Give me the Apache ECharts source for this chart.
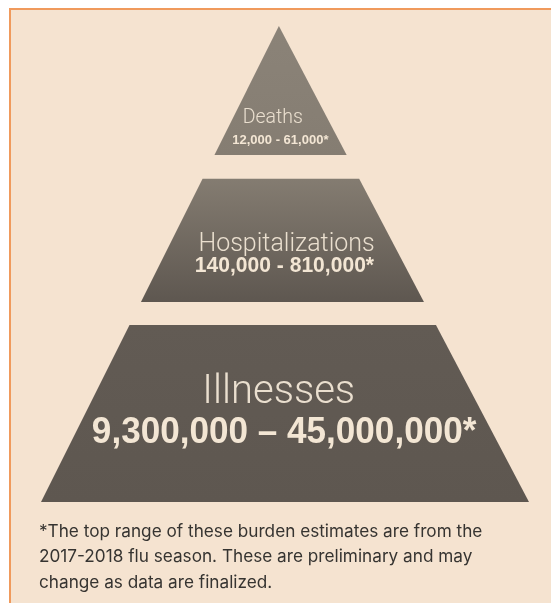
<!DOCTYPE html>
<html>
<head>
<meta charset="utf-8">
<script src="https://cdn.jsdelivr.net/npm/echarts@6/dist/echarts.min.js"></script>
<style>
  html, body { margin: 0; padding: 0; background: #ffffff; width: 551px; height: 603px; overflow: hidden; }
  #frame { position: absolute; left: 9px; top: 8px; right: 0; bottom: 0; background: #f5e3d0;
           border-left: 2px solid #f09a5c; border-top: 2px solid #f09a5c; }
  #chart { position: absolute; left: 0; top: 0; width: 551px; height: 603px; }
</style>
</head>
<body>
<div id="frame"></div>
<div id="chart"></div>
<script>
// Burden tiers, top of the pyramid first
const tiers = ['Deaths', 'Hospitalizations', 'Illnesses'];
const lowEstimates = [12000, 140000, 9300000];
const highEstimates = [61000, 810000, 45000000];
const rangeSeparators = ['-', '-', '\u2013'];
const footnoteLines = [
  '*The top range of these burden estimates are from the',
  '2017-2018 flu season. These are preliminary and may',
  'change as data are finalized.'
];

// Pyramid layout: levels run from 0 (base) to 1 (apex)
const bands = [[0.729, 1.0], [0.420, 0.679], [0.0, 0.372]];
const nameLevels = [0.806, 0.541, 0.229];
const rangeLevels = [0.759, 0.495, 0.145];
const nameShift = [-0.03, 0.02, -0.02];
const rangeShift = [0, 0.01, 0];
const apexX = -0.025;
const nameFonts = ['300 19.5px Roboto', '300 25px Roboto', '300 40px Roboto'];
const rangeFonts = ['bold 13px "Liberation Sans"', 'bold 21.5px "Liberation Sans"', 'bold 36px "Liberation Sans"'];
const rangeScaleX = [1, 0.98, 0.975];
const fills = [
  ['#8b8378', '#857d72'],
  ['#847c71', '#5e5750'],
  ['#625b54', '#5e5750']
];

const leftAt = L => -1 + L * (apexX + 1);
const rightAt = L => 1 - L * (1 - apexX);
const fmt = v => v.toLocaleString('en-US');

function renderTier(params, api) {
  const i = params.dataIndex;
  const [b, t] = bands[i];
  const pts = [
    api.coord([leftAt(b), b]),
    api.coord([rightAt(b), b]),
    api.coord([rightAt(t), t]),
    api.coord([leftAt(t), t])
  ];
  const nl = nameLevels[i], rl = rangeLevels[i];
  const namePt = api.coord([(leftAt(nl) + rightAt(nl)) / 2 + nameShift[i], nl]);
  const rangePt = api.coord([(leftAt(rl) + rightAt(rl)) / 2 + rangeShift[i], rl]);
  return {
    type: 'group',
    children: [
      {
        type: 'polygon',
        shape: { points: pts },
        style: {
          fill: new echarts.graphic.LinearGradient(0, 0, 0, 1, [
            { offset: 0, color: fills[i][0] },
            { offset: 1, color: fills[i][1] }
          ])
        }
      },
      {
        type: 'text',
        x: namePt[0], y: namePt[1],
        style: {
          text: tiers[i], x: 0, y: 0,
          align: 'center', verticalAlign: 'middle',
          font: nameFonts[i], fill: '#eadfcf'
        }
      },
      {
        type: 'text',
        x: rangePt[0], y: rangePt[1], scaleX: rangeScaleX[i],
        style: {
          text: fmt(lowEstimates[i]) + ' ' + rangeSeparators[i] + ' ' + fmt(highEstimates[i]) + '*',
          x: 0, y: 0,
          align: 'center', verticalAlign: 'middle',
          font: rangeFonts[i], fill: '#f3e6d4'
        }
      }
    ]
  };
}

const chart = echarts.init(document.getElementById('chart'), null, { renderer: 'canvas' });
chart.setOption({
  animation: false,
  backgroundColor: 'transparent',
  grid: { left: 41, right: 22, top: 26, bottom: 101 },
  xAxis: { type: 'value', min: -1, max: 1, show: false },
  yAxis: { type: 'value', min: 0, max: 1, show: false },
  graphic: [{
    type: 'text', left: 39, top: 519,
    style: {
      text: footnoteLines.join('\n'),
      font: '17.2px Inter', lineHeight: 25.5, fill: '#363431'
    }
  }],
  series: [{
    type: 'custom',
    clip: false,
    renderItem: renderTier,
    data: tiers.map((name, i) => ({ name: name, value: [i, i] }))
  }]
});
</script>
</body>
</html>
